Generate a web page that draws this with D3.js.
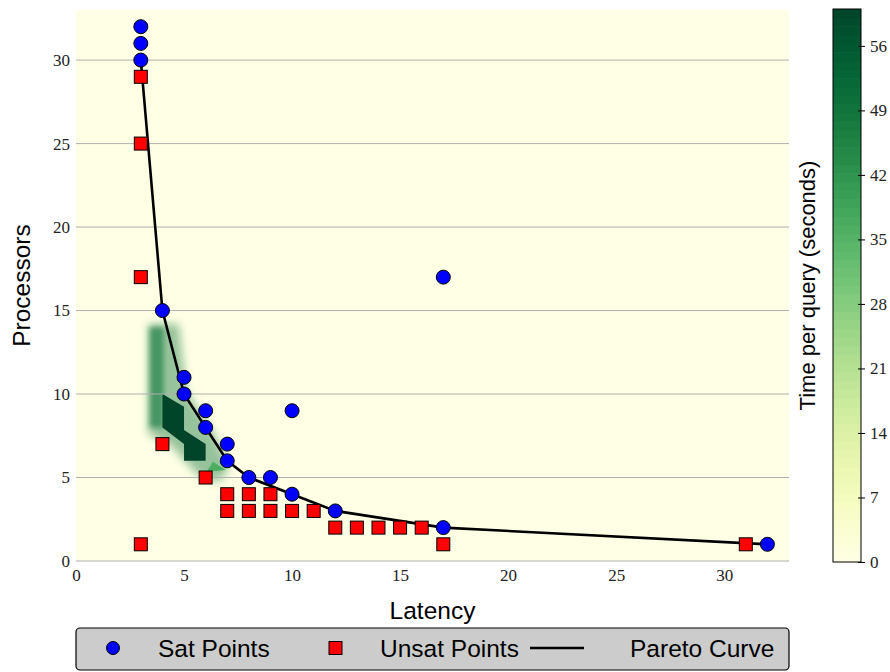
<!DOCTYPE html>
<html>
<head>
<meta charset="utf-8">
<script src="https://cdn.jsdelivr.net/npm/d3@7"></script>
<style>
  body { margin: 0; background: #fff; }
  .tick text { font-family: "Liberation Serif", "DejaVu Serif", serif; font-size: 17px; fill: #222; }
  .ttl { font-family: "Liberation Sans", Arial, sans-serif; font-size: 24.5px; fill: #000; }
</style>
</head>
<body>
<div id="chart"></div>
<script>
/* data */
var satPoints = [[3,32],[3,31],[3,30],[4,15],[5,11],[5,10],[6,9],[6,8],[7,7],[7,6],[8,5],[9,5],[10,9],[10,4],[12,3],[17,17],[17,2],[32,1]];
var unsatPoints = [[3,29],[3,25],[3,17],[3,1],[4,7],[6,5],[7,4],[7,3],[8,4],[8,3],[9,4],[9,3],[10,3],[11,3],[12,2],[13,2],[14,2],[15,2],[16,2],[17,1],[31,1]];
var paretoCurve = [[3,30],[4,15],[5,10],[6,8],[7,6],[8,5],[10,4],[12,3],[17,2],[32,1]];
// time per query regions: outlines in [latency, processors], value in seconds
var haloOutline = [[3.35,14.2],[4.75,14.2],[5.1,10.2],[6.4,7.6],[7.1,5.6],[6.6,4.7],[5.6,5.2],[4.4,6.9],[3.35,7.6]];
var haloSeconds = 48, haloShare = 0.45;
var stripOutline = [[3.4,14],[4.05,14],[4.05,8],[3.4,8]];
var stripSeconds = 48, stripShare = 0.62;
var darkOutline = [[4,10],[5,9.24],[5,7.84],[6,7],[6,6],[5,6],[5,7],[4,8]];
var darkSeconds = 60;
var peakOutline = [[6.05,5.35],[6.34,5.95],[6.94,5.45]];
var peakSeconds = 36;
var xTicks = [0,5,10,15,20,25,30];
var yTicks = [0,5,10,15,20,25,30];
var cbTicks = [0,7,14,21,28,35,42,49,56];
var legendItems = ["Sat Points","Unsat Points","Pareto Curve"];

var W = 890, H = 672;
var m = {left:76, right:789, top:10, bottom:561};

var svg = d3.select("#chart").append("svg").attr("width",W).attr("height",H);
var defs = svg.append("defs");

var x = d3.scaleLinear().domain([0,33]).range([m.left,m.right]);
var y = d3.scaleLinear().domain([0,33]).range([m.bottom,m.top]);
var color = d3.scaleSequential(d3.interpolateYlGn).domain([0,60]);

defs.append("clipPath").attr("id","plotclip").append("rect")
  .attr("x",m.left).attr("y",m.top).attr("width",m.right-m.left).attr("height",m.bottom-m.top);
defs.append("filter").attr("id","blur").attr("x","-50%").attr("y","-50%").attr("width","200%").attr("height","200%")
  .append("feGaussianBlur").attr("stdDeviation",4);
defs.append("filter").attr("id","blur2").attr("x","-50%").attr("y","-50%").attr("width","200%").attr("height","200%")
  .append("feGaussianBlur").attr("stdDeviation",2.5);

// background
svg.append("rect").attr("x",m.left).attr("y",m.top).attr("width",m.right-m.left).attr("height",m.bottom-m.top)
  .attr("fill",color(0));

var outline = d3.line().x(function(d){ return x(d[0]); }).y(function(d){ return y(d[1]); }).curve(d3.curveLinearClosed);
var heat = svg.append("g").attr("clip-path","url(#plotclip)");
heat.append("path").attr("d",outline(haloOutline)).attr("fill",color(haloSeconds))
  .attr("fill-opacity",haloShare).attr("filter","url(#blur)");
heat.append("path").attr("d",outline(stripOutline)).attr("fill",color(stripSeconds))
  .attr("fill-opacity",stripShare).attr("filter","url(#blur2)");
heat.append("path").attr("d",outline(darkOutline)).attr("fill",color(darkSeconds));
heat.append("path").attr("d",outline(peakOutline)).attr("fill",color(peakSeconds));

// grid
svg.append("g").selectAll("line").data(yTicks).enter().append("line")
  .attr("x1",m.left).attr("x2",m.right)
  .attr("y1",function(d){ return y(d); }).attr("y2",function(d){ return y(d); })
  .attr("stroke","#b0b0b0").attr("stroke-width",1);

// axes
var xAxis = svg.append("g").attr("transform","translate(0,"+m.bottom+")")
  .call(d3.axisBottom(x).tickValues(xTicks).tickSize(0).tickPadding(8));
xAxis.select(".domain").remove();
var yAxis = svg.append("g").attr("transform","translate("+m.left+",0)")
  .call(d3.axisLeft(y).tickValues(yTicks).tickSize(0).tickPadding(6));
yAxis.select(".domain").remove();

svg.append("text").attr("class","ttl").attr("x",(m.left+m.right)/2).attr("y",619)
  .attr("text-anchor","middle").text("Latency");
svg.append("text").attr("class","ttl").attr("transform","translate(30,"+((m.top+m.bottom)/2)+") rotate(-90)")
  .attr("text-anchor","middle").text("Processors");

// pareto curve
var line = d3.line().x(function(d){ return x(d[0]); }).y(function(d){ return y(d[1]); });
svg.append("path").datum(paretoCurve).attr("d",line)
  .attr("fill","none").attr("stroke","#000").attr("stroke-width",2.6);

// markers
var sq = 13;
svg.append("g").selectAll("rect").data(unsatPoints).enter().append("rect")
  .attr("x",function(d){ return x(d[0])-sq/2; }).attr("y",function(d){ return y(d[1])-sq/2; })
  .attr("width",sq).attr("height",sq)
  .attr("fill","#ff0000").attr("stroke","#000").attr("stroke-width",1);
svg.append("g").selectAll("circle").data(satPoints).enter().append("circle")
  .attr("cx",function(d){ return x(d[0]); }).attr("cy",function(d){ return y(d[1]); })
  .attr("r",7).attr("fill","#0000ff").attr("stroke","#000").attr("stroke-width",1);

// colorbar
var cb = {x:833, w:28, top:9, bottom:562};
var cy = d3.scaleLinear().domain([0,60]).range([cb.bottom,cb.top]);
var steps = d3.range(0,60,60/64);
svg.append("g").selectAll("rect").data(steps).enter().append("rect")
  .attr("x",cb.x).attr("width",cb.w)
  .attr("y",function(d){ return cy(d+60/64); })
  .attr("height",function(d){ return cy(d)-cy(d+60/64)+0.6; })
  .attr("fill",function(d){ return color(d+30/64); });
svg.append("rect").attr("x",cb.x).attr("y",cb.top).attr("width",cb.w).attr("height",cb.bottom-cb.top)
  .attr("fill","none").attr("stroke","#000").attr("stroke-width",1);
var cbAxis = svg.append("g").attr("transform","translate("+(cb.x+cb.w)+",0)")
  .call(d3.axisRight(cy).tickValues(cbTicks).tickSize(4).tickPadding(5));
cbAxis.select(".domain").remove();
cbAxis.selectAll(".tick line").attr("stroke","#000").attr("x1",-3);
svg.append("text").attr("class","ttl").style("font-size","22px")
  .attr("transform","translate(815,"+((cb.top+cb.bottom)/2)+") rotate(-90)")
  .attr("text-anchor","middle").text("Time per query (seconds)");

// legend
var lg = svg.append("g");
lg.append("rect").attr("x",76).attr("y",628).attr("width",713).attr("height",42).attr("rx",4)
  .attr("fill","#cccccc").attr("stroke","#000").attr("stroke-width",1.2);
var ly = 648;
lg.append("circle").attr("cx",113).attr("cy",ly).attr("r",6.5).attr("fill","#0000ff").attr("stroke","#000");
lg.append("rect").attr("x",329).attr("y",ly-6.5).attr("width",13).attr("height",13).attr("fill","#ff0000").attr("stroke","#000");
lg.append("line").attr("x1",530).attr("x2",584).attr("y1",ly).attr("y2",ly).attr("stroke","#000").attr("stroke-width",2.6);
var lx = [158,380,630];
lg.selectAll("text").data(legendItems).enter().append("text").attr("class","ttl")
  .attr("x",function(d,i){ return lx[i]; }).attr("y",ly+8.5).text(function(d){ return d; });
</script>
</body>
</html>
